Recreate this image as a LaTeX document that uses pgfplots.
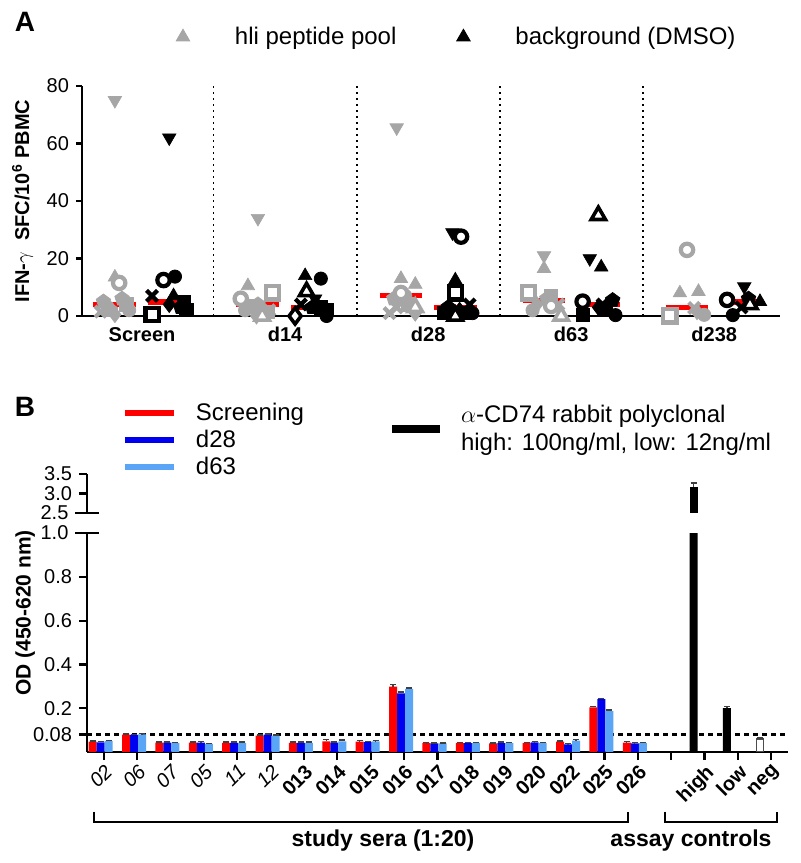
\documentclass[border=0pt]{standalone}
\usepackage{pgfplots}
\pgfplotsset{compat=1.18}
\usepackage{pgfplotstable}
\usepackage{fontspec}
\setmainfont{Liberation Sans}
\definecolor{grey}{RGB}{166,166,166}
\definecolor{cScr}{RGB}{255,0,0}
\definecolor{cDa}{RGB}{0,0,240}
\definecolor{cDb}{RGB}{90,165,245}
\newcommand\tickfont{\fontsize{10}{12}\selectfont}
\newcommand\legfont{\fontsize{12}{14}\selectfont}
\newcommand\labfont{\fontsize{10}{12}\selectfont\bfseries}

\pgfplotstableread{
x  scr    scrE   dA     dAE    dB     dBE
0  0.047  0.004  0.044  0.004  0.050  0.003
1  0.079  0.003  0.078  0.003  0.081  0.003
2  0.043  0.003  0.043  0.003  0.041  0.003
3  0.043  0.003  0.043  0.004  0.037  0.003
4  0.042  0.003  0.042  0.003  0.042  0.003
5  0.075  0.003  0.079  0.003  0.075  0.003
6  0.042  0.003  0.042  0.003  0.042  0.003
7  0.049  0.008  0.043  0.003  0.049  0.006
8  0.047  0.005  0.045  0.003  0.049  0.003
9  0.298  0.010  0.268  0.006  0.288  0.004
10 0.040  0.003  0.039  0.003  0.039  0.003
11 0.041  0.003  0.041  0.003  0.041  0.003
12 0.039  0.003  0.041  0.004  0.041  0.003
13 0.041  0.003  0.044  0.003  0.041  0.003
14 0.047  0.004  0.035  0.003  0.052  0.004
15 0.204  0.005  0.242  0.003  0.187  0.005
16 0.043  0.004  0.039  0.004  0.040  0.004
}\seradata

\pgfplotsset{
 mk/.style={only marks, forget plot},
 dn/.style={mk, mark=triangle*, mark size=3.9pt, mark options={rotate=180, line width=0.3pt}},
 up/.style={mk, mark=triangle*, mark size=3.9pt, mark options={line width=0.3pt}},
 ring/.style={mk, mark=*, mark size=3.1pt, mark options={fill=white, line width=2.1pt}},
 dot/.style={mk, mark=*, mark size=3.3pt},
 osq/.style={mk, mark=square*, mark size=3.3pt, mark options={fill=white, line width=2.1pt}},
 sq/.style={mk, mark=square*, mark size=3.3pt},
 dia/.style={mk, mark=diamond*, mark size=4pt},
 odia/.style={mk, mark=diamond*, mark size=4pt, mark options={fill=white, line width=1.8pt}},
 xx/.style={mk, mark=x, mark size=3.9pt, mark options={line width=2.1pt}},
 hex/.style={mk, mark=pentagon*, mark size=3.8pt},
 otri/.style={mk, mark=triangle*, mark size=4.1pt, mark options={fill=white, line width=1.8pt}},
 med/.style={cScr, line width=2.6pt, forget plot},
 eb/.style={error bars/.cd, y dir=plus, y explicit,
   error bar style={draw=black!75, line width=0.7pt},
   error mark options={rotate=90, mark size=1.5pt, draw=black!75, line width=0.7pt}},
}

\begin{document}
\begin{tikzpicture}
\path[use as bounding box] (0,0) rectangle (400pt,431.5pt);

% ---------------- Panel A ----------------
\begin{axis}[
  at={(41pt,273.5pt)}, anchor=south west,
  scale only axis, width=349pt, height=115pt,
  xmin=-0.42, xmax=4.46, ymin=0, ymax=80,
  axis x line=bottom, axis y line=left,
  axis line style={-, line width=1.1pt},
  xtick={0,1,2,3,4}, xticklabels={Screen,d14,d28,d63,d238},
  xticklabel style={font=\labfont, yshift=1pt},
  x tick style={draw=none},
  ytick={0,20,40,60,80}, yticklabels={0,20,40,60,80},
  yticklabel style={font=\tickfont},
  y tick style={line width=1.1pt, black},
  tick align=outside, major tick length=3pt,
  ylabel={IFN-$\gamma$\ \ SFC/10\textsuperscript{6} PBMC},
  ylabel style={font=\labfont, at={(axis description cs:-0.085,0.5)}, anchor=center},
  clip=false,
  legend columns=2,
  legend style={at={(axis description cs:0.1189,1.213)}, anchor=west, draw=none, fill=none,
    inner sep=0pt, outer sep=0pt, font=\legfont, nodes={inner sep=0pt},
    /tikz/every even column/.append style={column sep=24.5pt}},
  legend image code/.code={\path[draw=none, fill=none] (-9pt,-5pt) rectangle (26pt,5pt); \draw[#1] plot coordinates {(0pt,0pt)};},
]
\addplot[black, line width=0.9pt, dash pattern=on 0.9pt off 2.1pt, forget plot] coordinates {(0.5,0) (0.5,80)};
\addplot[black, line width=0.9pt, dash pattern=on 0.9pt off 2.1pt, forget plot] coordinates {(1.5,0) (1.5,80)};
\addplot[black, line width=0.9pt, dash pattern=on 0.9pt off 2.1pt, forget plot] coordinates {(2.5,0) (2.5,80)};
\addplot[black, line width=0.9pt, dash pattern=on 0.9pt off 2.1pt, forget plot] coordinates {(3.5,0) (3.5,80)};

% grey: hli peptide pool
\addplot[dn, grey] coordinates {(-0.19,75) (0.81,34) (1.78,65.5) (2.81,21)};
\addplot[up, grey] coordinates {(-0.19,13.5) (0.74,10.5) (1.81,13) (1.91,11) (2.81,16.5) (3.76,8) (3.89,8.5)};
\addplot[hex, grey] coordinates {(-0.27,5) (-0.14,6) (0.81,4) (1.76,6) (2.83,6) (-0.22,2)};
\addplot[dot, grey] coordinates {(-0.09,2) (-0.24,3) (0.78,3) (1.84,7) (2.73,2) (3.93,0.4) (0.72,2)};
\addplot[sq, grey] coordinates {(-0.11,4) (0.73,3.5) (1.86,4) (2.86,7) (0.88,1.5)};
\addplot[dia, grey] coordinates {(-0.19,0.5) (0.86,1) (1.91,1) (2.76,4) (3.88,1.5) (0.8,0)};
\addplot[xx, grey] coordinates {(-0.29,1.5) (0.89,2) (1.73,1) (2.91,4) (3.86,2.8) (1.78,3)};
\addplot[otri, grey] coordinates {(0.84,0) (1.91,3) (2.93,0)};
\addplot[osq, grey] coordinates {(0.91,8) (2.70,8) (3.69,0)};
\addplot[ring, grey] coordinates {(-0.16,11.5) (0.69,6) (1.81,8) (2.86,3.5) (3.81,23)};

% black: background (DMSO)
\addplot[dn, black] coordinates {(0.19,62) (1.21,6) (2.17,29) (3.13,20) (4.21,10.2)};
\addplot[up, black] coordinates {(0.22,7) (1.14,14) (2.19,12.5) (3.21,17) (4.32,5)};
\addplot[hex, black] coordinates {(0.27,3) (1.19,3) (2.14,3) (3.29,5.5) (4.24,6)};
\addplot[sq, black] coordinates {(0.29,5) (0.31,2) (1.25,3) (1.29,2) (2.11,1) (3.08,0.3) (3.24,2) (2.25,1)};
\addplot[dia, black] coordinates {(0.19,4) (2.22,2) (3.19,3)};
\addplot[xx, black] coordinates {(0.07,7) (1.11,4) (2.29,4) (3.22,4) (4.19,3)};
\addplot[dot, black] coordinates {(0.23,13.7) (1.25,13) (1.29,0) (2.31,1) (3.31,0.3) (4.13,0.3)};
\addplot[odia, black] coordinates {(1.07,0)};
\addplot[otri, black] coordinates {(1.15,8.5) (2.19,0) (3.19,35) (4.25,4)};
\addplot[osq, black] coordinates {(0.07,0.5) (2.19,8)};
\addplot[ring, black] coordinates {(0.15,12.5) (2.23,27.6) (3.08,5) (4.09,5.6)};

% medians
\addplot[med] coordinates {(-0.34,3.9) (-0.04,3.9)};
\addplot[med] coordinates {(0.04,4.9) (0.34,4.9)};
\addplot[med] coordinates {(0.66,3.9) (0.96,3.9)};
\addplot[med] coordinates {(1.04,3.0) (1.34,3.0)};
\addplot[med] coordinates {(1.66,7.0) (1.96,7.0)};
\addplot[med] coordinates {(2.04,3.0) (2.34,3.0)};
\addplot[med] coordinates {(2.66,5.3) (2.96,5.3)};
\addplot[med] coordinates {(3.04,4.1) (3.34,4.1)};
\addplot[med] coordinates {(3.66,3.0) (3.96,3.0)};
\addplot[med] coordinates {(4.04,4.9) (4.34,4.9)};

\addlegendimage{only marks, mark=triangle*, mark size=3.9pt, grey}
\addlegendentry{hli peptide pool}
\addlegendimage{only marks, mark=triangle*, mark size=3.9pt, black}
\addlegendentry{background (DMSO)}
\end{axis}

% ---------------- Panel B lower ----------------
\begin{axis}[
  at={(43.5pt,55.5pt)}, anchor=south west, scale only axis,
  width=350.5pt, height=109.5pt,
  xmin=-0.5, xmax=20.5, ymin=0, ymax=1,
  axis x line=bottom, axis y line=left,
  axis line style={-, line width=1.1pt},
  tick align=outside, major tick length=4pt,
  tick style={line width=1.1pt, black},
  xtick={0,1,...,20},
  xticklabels={\textit{02},\textit{06},\textit{07},\textit{05},\textit{11},\textit{12},\textbf{013},\textbf{014},\textbf{015},\textbf{016},\textbf{017},\textbf{018},\textbf{019},\textbf{020},\textbf{022},\textbf{025},\textbf{026},{},\textbf{high},\textbf{low},\textbf{neg}},
  xticklabel style={font=\tickfont, rotate=45, anchor=north east, inner sep=1pt},
  ytick={0.08,0.2,0.4,0.6,0.8}, yticklabels={0.08,0.2,0.4,0.6,0.8},
  extra y ticks={1}, extra y tick labels={1.0},
  extra y tick style={tick align=center, major tick length=11.5pt},
  yticklabel style={font=\tickfont},
  ylabel={OD (450-620 nm)},
  ylabel style={font=\fontsize{10.5}{12}\selectfont\bfseries, at={(axis description cs:-0.088,0.635)}, anchor=center},
  legend style={at={(axis description cs:0.0499,1.6027)}, anchor=north west, draw=none, fill=none,
    inner sep=0pt, outer sep=0pt, font=\legfont, row sep=1.5pt,
    nodes={inner sep=0pt, text height=9.5pt, text depth=2.5pt}},
  legend cell align=left,
  legend image code/.code={\path[draw=none, fill=none] (0pt,-3pt) rectangle (35.5pt,3pt); \draw[#1] (0pt,0pt) -- (24.5pt,0pt);},
]
\addplot[black, line width=1.1pt, dash pattern=on 2.5pt off 2pt, forget plot] coordinates {(-0.5,0.08) (20.5,0.08)};
\addplot[ybar, bar width=4pt, bar shift=0pt, fill=cScr, draw=none, forget plot, eb] table[x expr=\thisrow{x}-0.33, y=scr, y error=scrE] {\seradata};
\addplot[ybar, bar width=4pt, bar shift=0pt, fill=cDa, draw=none, forget plot, eb] table[x expr=\thisrow{x}-0.09, y=dA, y error=dAE] {\seradata};
\addplot[ybar, bar width=4pt, bar shift=0pt, fill=cDb, draw=none, forget plot, eb] table[x expr=\thisrow{x}+0.15, y=dB, y error=dBE] {\seradata};
\addplot[ybar, bar width=4pt, bar shift=0pt, fill=black, draw=none, forget plot, eb] coordinates {(17.67,3.17) +- (0,0.1) (18.67,0.200) +- (0,0.008)};
\addplot[ybar, bar width=3.6pt, bar shift=0pt, fill=white, draw=black!70, line width=0.6pt, forget plot, eb] coordinates {(19.67,0.059) +- (0,0.005)};
\addlegendimage{cScr, line width=3pt}
\addlegendentry{Screening}
\addlegendimage{cDa, line width=3pt}
\addlegendentry{d28}
\addlegendimage{cDb, line width=3pt}
\addlegendentry{d63}
\end{axis}

% ---------------- Panel B upper ----------------
\begin{axis}[
  at={(43.5pt,175pt)}, anchor=south west, scale only axis,
  width=350.5pt, height=19.5pt,
  xmin=-0.5, xmax=20.5, ymin=2.5, ymax=3.5,
  axis x line=none, axis y line=left,
  axis line style={-, line width=1.1pt},
  tick align=outside, major tick length=4pt,
  tick style={line width=1.1pt, black},
  ytick={3,3.5}, yticklabels={3.0,3.5},
  extra y ticks={2.5}, extra y tick labels={2.5},
  extra y tick style={tick align=center, major tick length=11.5pt},
  yticklabel style={font=\tickfont},
  legend style={at={(axis description cs:0.4294,2.1538)}, anchor=west, draw=none, fill=none,
    inner sep=0pt, outer sep=0pt, font=\legfont, nodes={inner sep=0pt, align=left}},
  legend cell align=left,
  legend image code/.code={\path[draw=none, fill=none] (0pt,-3pt) rectangle (34.5pt,3pt); \draw[#1] (0pt,0pt) -- (24pt,0pt);},
]
\addplot[ybar, bar width=4pt, bar shift=0pt, fill=black, draw=none, forget plot, eb] coordinates {(17.67,3.17) +- (0,0.1)};
\addlegendimage{black, line width=4pt}
\addlegendentry{$\alpha$-CD74 rabbit polyclonal\\high: 100ng/ml, low: 12ng/ml}
\end{axis}

% brackets and panel letters
\draw[line width=1.1pt] (47pt,25.65pt) -- (47pt,20.65pt) -- (313.85pt,20.65pt) -- (313.85pt,25.65pt);
\draw[line width=1.1pt] (332.5pt,25.65pt) -- (332.5pt,20.65pt) -- (388.35pt,20.65pt) -- (388.35pt,25.65pt);
\node[font=\fontsize{11.5}{13}\selectfont\bfseries, anchor=base] at (191.5pt,8.5pt) {study sera (1:20)};
\node[font=\fontsize{11.5}{13}\selectfont\bfseries, anchor=base] at (345.5pt,8.5pt) {assay controls};
\node[font=\fontsize{14}{16}\selectfont\bfseries, anchor=base] at (12.5pt,415.5pt) {A};
\node[font=\fontsize{14}{16}\selectfont\bfseries, anchor=base] at (12.5pt,223pt) {B};
\end{tikzpicture}
\end{document}
